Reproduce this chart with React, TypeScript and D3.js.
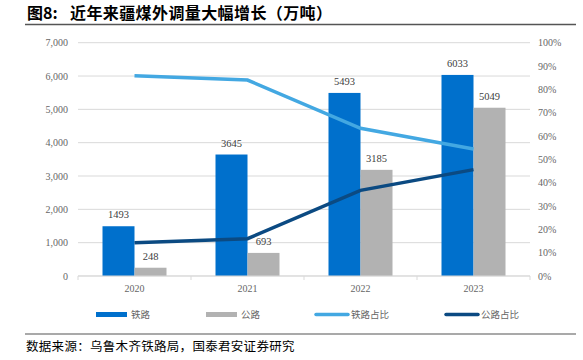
import React from "react";
import * as d3 from "d3";

const categories = ["2020", "2021", "2022", "2023"];
const railVolume = [1493, 3645, 5493, 6033];
const roadVolume = [248, 693, 3185, 5049];
const railShare = [0.858, 0.840, 0.633, 0.544];
const roadShare = [0.142, 0.160, 0.367, 0.456];
const leftTicks = [0, 1000, 2000, 3000, 4000, 5000, 6000, 7000];
const rightTicks = [0, 0.1, 0.2, 0.3, 0.4, 0.5, 0.6, 0.7, 0.8, 0.9, 1.0];
const legendLabels = ["铁路", "公路", "铁路占比", "公路占比"];

const W = 583, H = 360;
const plot = { left: 78, right: 530, top: 42.7, bottom: 276 };
const C = {
  rail: "#0070cc",
  road: "#b2b2b2",
  railLine: "#43a8e2",
  roadLine: "#0b4a82",
  grid: "#d9d9d9",
  axisText: "#666666",
};
const serif = "'Liberation Serif', 'Times New Roman', serif";
const cjk = "'Noto Sans CJK SC', sans-serif";

export default function App() {
  const x = d3.scaleBand<string>().domain(categories).range([plot.left, plot.right]).padding(0);
  const y = d3.scaleLinear().domain([0, 7000]).range([plot.bottom, plot.top]);
  const y2 = d3.scaleLinear().domain([0, 1]).range([plot.bottom, plot.top]);
  const cx = (c: string) => (x(c) as number) + x.bandwidth() / 2;
  const line = d3.line<number>().x((_, i) => cx(categories[i])).y((d) => y2(d));
  const bw = 32;

  return (
    <svg width={W} height={H} style={{ position: "absolute", left: 0, top: 0, background: "#fff" }}>
      {/* Title */}
      <text x={27} y={19} fontFamily={cjk} fontSize={16} fontWeight="bold" fill="#000">
        图8:
      </text>
      <text x={70} y={19} fontFamily={cjk} fontSize={16} fontWeight="bold" fill="#000" letterSpacing={0.4}>
        近年来疆煤外调量大幅增长（万吨）
      </text>
      <line x1={25} x2={576} y1={24.5} y2={24.5} stroke="#555" strokeWidth={1.5} />

      {/* gridlines */}
      {leftTicks.map((t) => (
        <line key={"g" + t} x1={plot.left} x2={plot.right} y1={y(t)} y2={y(t)} stroke={C.grid} strokeWidth={1} />
      ))}
      {/* left ticks */}
      {leftTicks.map((t) => (
        <text key={"l" + t} x={68} y={y(t) + 3.5} textAnchor="end" fontFamily={serif} fontSize={10} fill={C.axisText}>
          {d3.format(",")(t)}
        </text>
      ))}
      {/* right ticks */}
      {rightTicks.map((t) => (
        <text key={"r" + t} x={538} y={y2(t) + 3.5} textAnchor="start" fontFamily={serif} fontSize={10} fill={C.axisText}>
          {Math.round(t * 100) + "%"}
        </text>
      ))}

      {/* bars */}
      {categories.map((c, i) => {
        const c0 = cx(c);
        return (
          <g key={"b" + c}>
            <rect x={c0 - bw} y={y(railVolume[i])} width={bw} height={plot.bottom - y(railVolume[i])} fill={C.rail} />
            <rect x={c0} y={y(roadVolume[i])} width={bw} height={plot.bottom - y(roadVolume[i])} fill={C.road} />
            <text x={c0 - bw / 2} y={y(railVolume[i]) - 8} textAnchor="middle" fontFamily={serif} fontSize={10.5} fill="#404040">
              {railVolume[i]}
            </text>
            <text x={c0 + bw / 2} y={y(roadVolume[i]) - 8} textAnchor="middle" fontFamily={serif} fontSize={10.5} fill="#404040">
              {roadVolume[i]}
            </text>
          </g>
        );
      })}

      {/* x axis */}
      <line x1={plot.left} x2={plot.right} y1={plot.bottom} y2={plot.bottom} stroke={C.grid} strokeWidth={1} />
      {categories.map((c) => (
        <line key={"t" + c} x1={x(c) as number} x2={x(c) as number} y1={plot.bottom} y2={plot.bottom + 4} stroke={C.grid} />
      ))}
      <line x1={plot.right} x2={plot.right} y1={plot.bottom} y2={plot.bottom + 4} stroke={C.grid} />
      {categories.map((c) => (
        <text key={"x" + c} x={cx(c)} y={292} textAnchor="middle" fontFamily={serif} fontSize={10} fill={C.axisText}>
          {c}
        </text>
      ))}

      {/* lines */}
      <path d={line(railShare) || ""} fill="none" stroke={C.railLine} strokeWidth={3.5} />
      <path d={line(roadShare) || ""} fill="none" stroke={C.roadLine} strokeWidth={3.5} />

      {/* legend */}
      <rect x={96} y={312} width={31} height={5} fill={C.rail} />
      <text x={131} y={318} fontFamily={cjk} fontSize={9.5} fill={C.axisText}>{legendLabels[0]}</text>
      <rect x={206} y={312} width={31} height={5} fill={C.road} />
      <text x={241} y={318} fontFamily={cjk} fontSize={9.5} fill={C.axisText}>{legendLabels[1]}</text>
      <line x1={316} x2={348} y1={314.5} y2={314.5} stroke={C.railLine} strokeWidth={3.5} strokeLinecap="round" />
      <text x={351} y={318} fontFamily={cjk} fontSize={9.5} fill={C.axisText}>{legendLabels[2]}</text>
      <line x1={446} x2={478} y1={314.5} y2={314.5} stroke={C.roadLine} strokeWidth={3.5} strokeLinecap="round" />
      <text x={481} y={318} fontFamily={cjk} fontSize={9.5} fill={C.axisText}>{legendLabels[3]}</text>

      {/* footer */}
      <line x1={25} x2={576} y1={334} y2={334} stroke="#555" strokeWidth={1.2} />
      <text x={26} y={351} fontFamily={cjk} fontSize={12.5} fill="#000" letterSpacing={0.3}>
        数据来源：乌鲁木齐铁路局，国泰君安证券研究
      </text>
    </svg>
  );
}
